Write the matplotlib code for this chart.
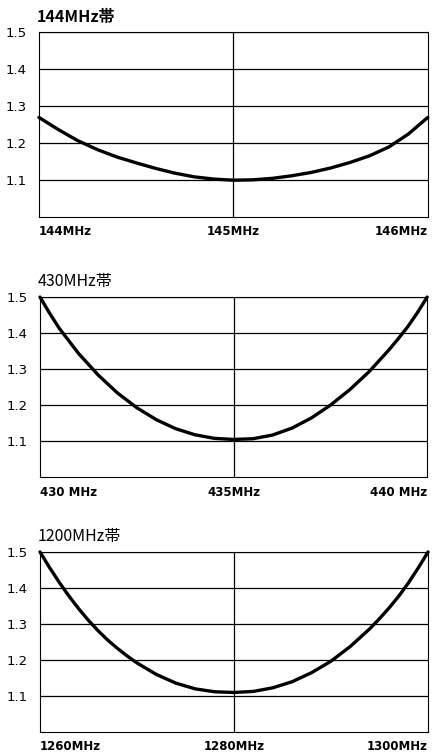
#!/usr/bin/env python3
"""
SWR curves for the 144MHz, 430MHz and 1200MHz bands.
"""
import matplotlib
matplotlib.use('Agg')
import matplotlib.pyplot as plt

plt.rcParams['font.family'] = ['Noto Sans CJK JP', 'DejaVu Sans']

titles = ['144MHz帯', '430MHz帯', '1200MHz帯']

freq_144 = [144.0, 144.1, 144.2, 144.3, 144.4, 144.5, 144.6, 144.7, 144.8, 144.9, 145.0,
	145.1, 145.2, 145.3, 145.4, 145.5, 145.6, 145.7, 145.8, 145.9, 146.0]
swr_144 = [1.27, 1.237, 1.207, 1.183, 1.163, 1.147, 1.132, 1.119, 1.109, 1.103, 1.100,
	1.101, 1.105, 1.112, 1.121, 1.133, 1.148, 1.166, 1.19, 1.225, 1.27]

freq_430 = [430.0, 430.25, 430.5, 431.0, 431.5, 432.0, 432.5, 433.0, 433.5, 434.0, 434.5,
	435.0, 435.5, 436.0, 436.5, 437.0, 437.5, 438.0, 438.5, 439.0, 439.25, 439.5,
	439.75, 440.0]
swr_430 = [1.5, 1.455, 1.413, 1.343, 1.284, 1.234, 1.193, 1.16, 1.135, 1.118, 1.108,
	1.105, 1.107, 1.117, 1.136, 1.164, 1.2, 1.243, 1.293, 1.352, 1.384, 1.418,
	1.457, 1.5]

freq_1200 = [1260, 1261, 1262, 1263, 1264, 1265, 1266, 1267, 1268, 1269, 1270, 1272,
	1274, 1276, 1278, 1280, 1282, 1284, 1286, 1288, 1290, 1292, 1294, 1295, 1296,
	1297, 1298, 1299, 1300]
swr_1200 = [1.5, 1.456, 1.415, 1.377, 1.342, 1.31, 1.281, 1.255, 1.232, 1.211, 1.192, 1.16,
	1.136, 1.12, 1.112, 1.11, 1.113, 1.123, 1.14, 1.165, 1.197, 1.238, 1.287, 1.315,
	1.345, 1.378, 1.415, 1.456, 1.5]

xticks = [[144, 145, 146], [430, 435, 440], [1260, 1280, 1300]]
xlabels = [['144MHz', '145MHz', '146MHz'],
	['430 MHz', '435MHz', '440 MHz'],
	['1260MHz', '1280MHz', '1300MHz']]
yticks = [1.1, 1.2, 1.3, 1.4, 1.5]
ylabels = ['1.1', '1.2', '1.3', '1.4', '1.5']

panels = [(freq_144, swr_144), (freq_430, swr_430), (freq_1200, swr_1200)]
# axes rectangles in figure fractions
rects = [[0.089, 0.712, 0.890, 0.245],
	[0.0915, 0.367, 0.886, 0.239],
	[0.0915, 0.029, 0.888, 0.239]]

fig = plt.figure(figsize=(4.37, 7.54), dpi=100)
for i, (freq, swr) in enumerate(panels):
	ax = fig.add_axes(rects[i])
	ax.set_xlim(xticks[i][0], xticks[i][-1])
	ax.set_ylim(1.0, 1.5)
	for y in yticks:
		ax.axhline(y, color='black', lw=0.9, zorder=1)
	ax.axvline(xticks[i][1], color='black', lw=0.9, zorder=1)
	ax.plot(freq, swr, color='black', lw=2.4, solid_capstyle='round',
		solid_joinstyle='round', zorder=3, clip_on=False)
	ax.set_yticks(yticks)
	ax.set_yticklabels(ylabels, fontsize=9.5, family=['DejaVu Sans'])
	ax.set_xticks(xticks[i])
	ax.set_xticklabels(xlabels[i], fontsize=8.5, fontweight='bold', family=['DejaVu Sans'])
	tl = ax.get_xticklabels()
	tl[0].set_horizontalalignment('left')
	tl[-1].set_horizontalalignment('right')
	ax.tick_params(axis='x', length=0, pad=6)
	ax.tick_params(axis='y', length=0, pad=9)
	for s in ax.spines.values():
		s.set_linewidth(0.8)
	ax.text(-0.005, 1.04, titles[i], transform=ax.transAxes, fontsize=11.5,
		fontweight='bold' if i == 0 else 'normal', ha='left', va='bottom')

fig.savefig('out.png', dpi=100)
